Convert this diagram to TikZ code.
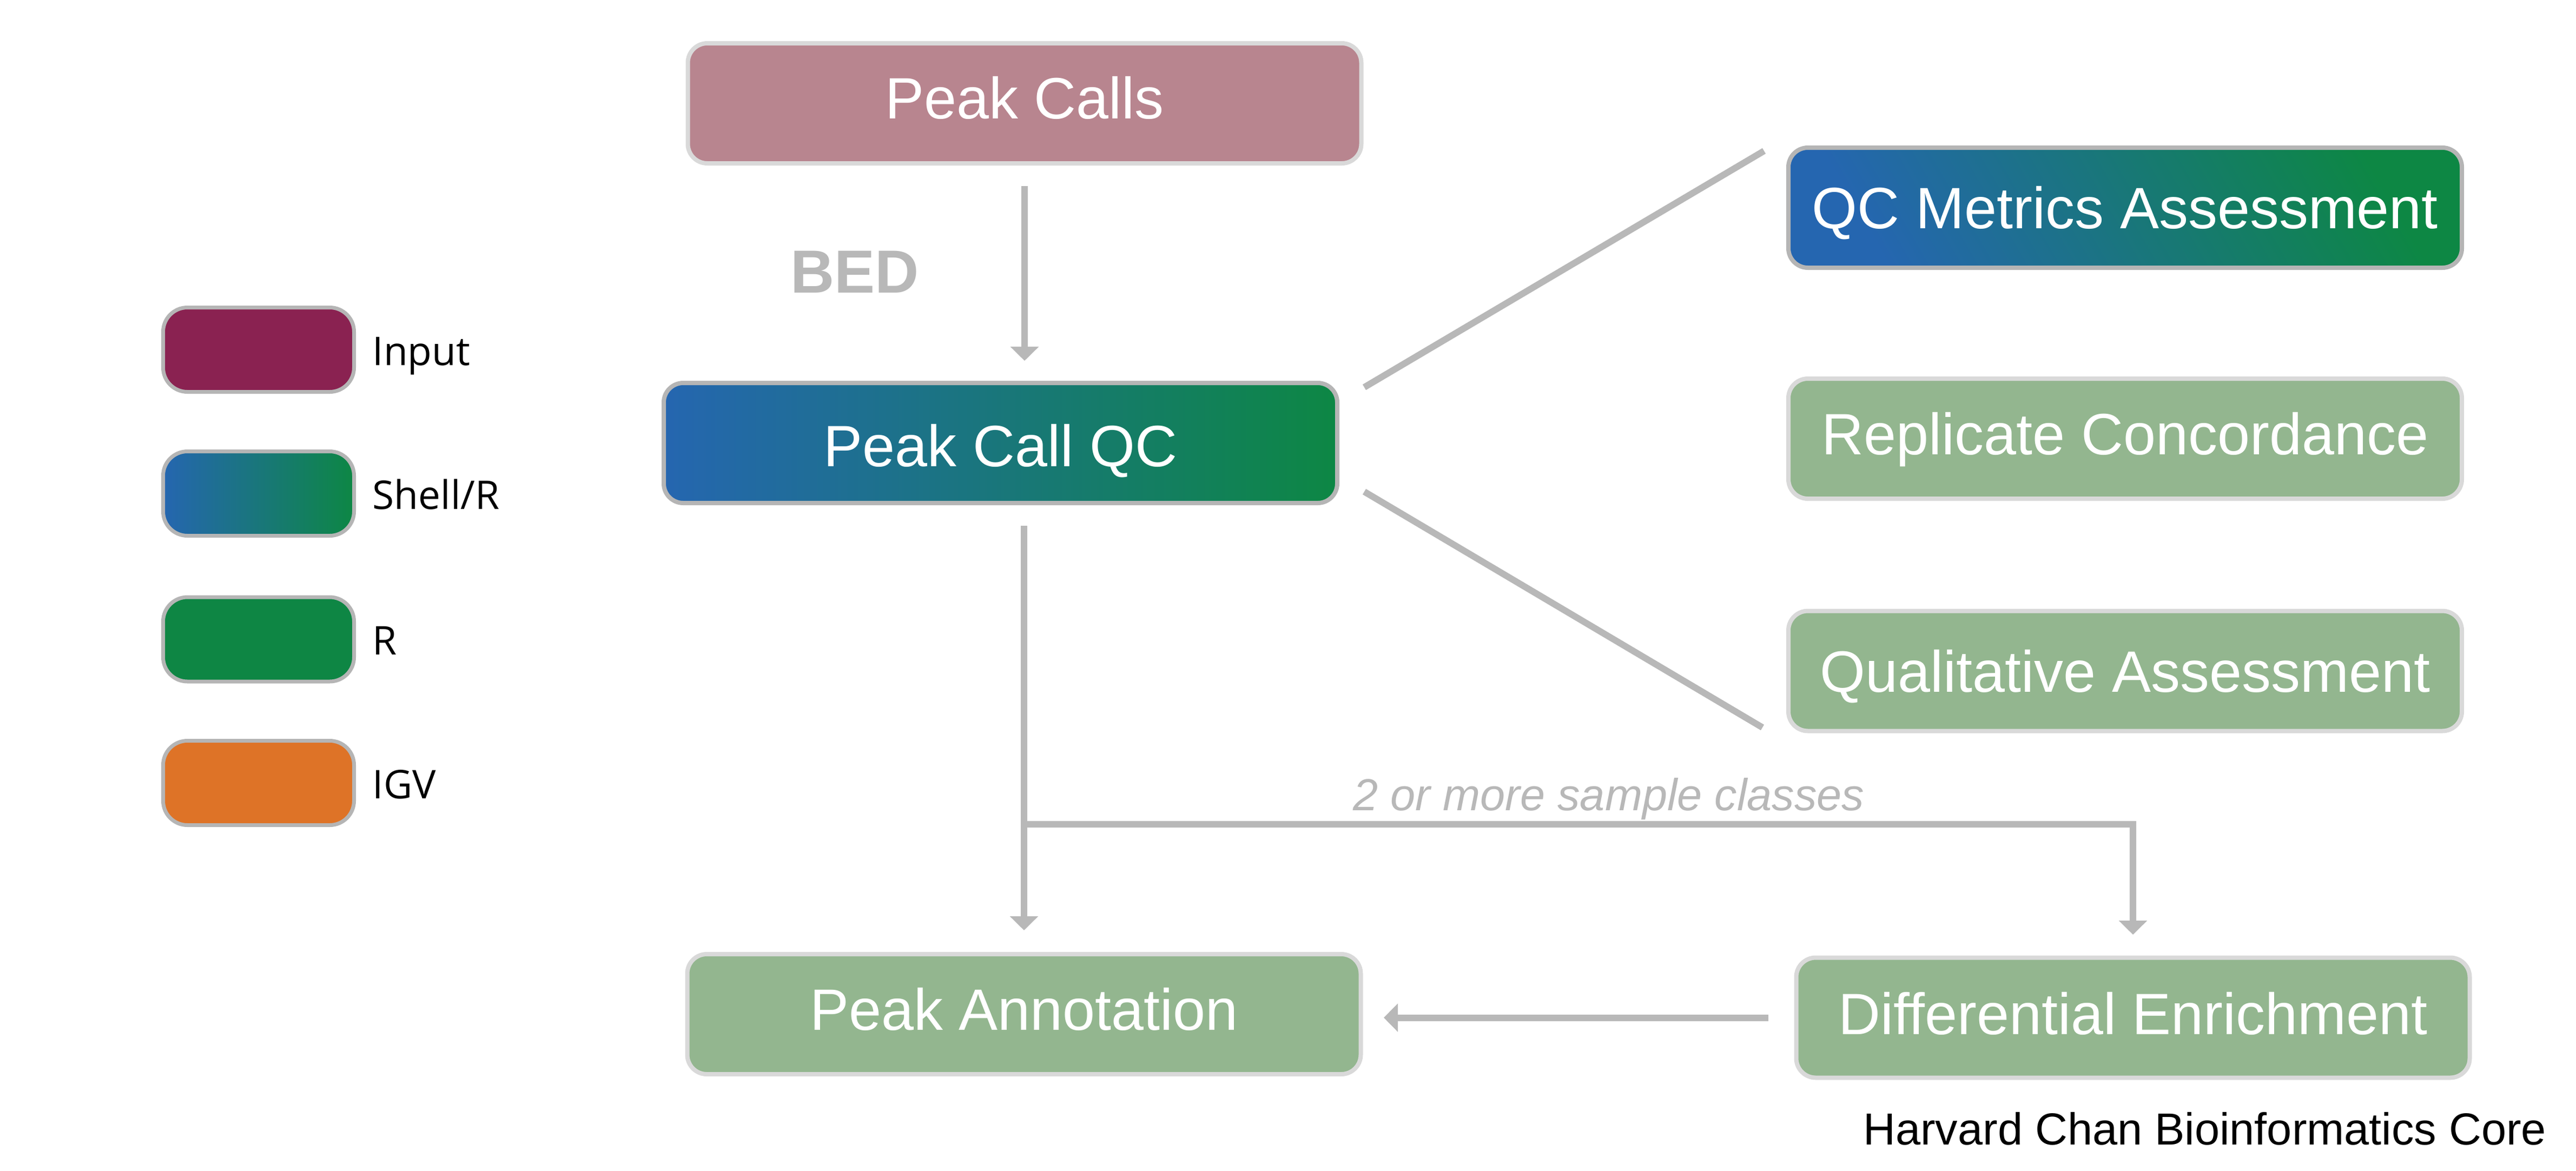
\documentclass[tikz,border=0pt]{standalone}
\usepackage{fontspec}
\setmainfont{Liberation Sans}
\newfontfamily\keyfont{Open Sans}
\usepackage{tikz}
\usetikzlibrary{calc}
\usetikzlibrary{arrows.meta}
\definecolor{callsfill}{HTML}{B8858F}
\definecolor{inputfill}{HTML}{8A2251}
\definecolor{shellblue}{HTML}{2566B0}
\definecolor{shellgreen}{HTML}{0D8744}
\definecolor{rfill}{HTML}{0E8644}
\definecolor{igvfill}{HTML}{DE7327}
\definecolor{sage}{HTML}{93B68F}
\definecolor{lightline}{HTML}{D9D9D9}
\definecolor{darkline}{HTML}{B5B5B5}
\definecolor{linegray}{HTML}{B8B8B8}
\tikzset{
    box/.style={rectangle, rounded corners=0.36cm, minimum width=12.45cm, minimum height=2.22cm,
        line width=0.08cm, inner sep=0pt, text=white, font=\fontsize{30.7}{36}\selectfont,
        text height=22pt, text depth=0pt},
    lightbox/.style={box, draw=lightline, fill=sage},
    shellbox/.style={box, draw=darkline, left color=shellblue, right color=shellgreen},
    key/.style={rectangle, rounded corners=0.45cm, minimum width=3.53cm, minimum height=1.56cm,
        line width=0.07cm, draw=darkline},
    keylabel/.style={anchor=base west, inner sep=0pt, font=\keyfont\fontsize{20.8}{24}\selectfont},
    flow/.style={draw=linegray, line width=0.12cm, -{Triangle[width=0.51cm,length=0.26cm]}},
    link/.style={draw=linegray, line width=0.12cm}
}
\begin{document}
\begin{tikzpicture}
\useasboundingbox (0,0) rectangle (47.62,-21.64);

\node[box, draw=lightline, fill=callsfill, text depth=6pt] (calls) at (18.94,-1.91) {Peak Calls};
\node[shellbox, text height=24.6pt] (qc) at (18.495,-8.19) {Peak Call QC};
\node[box, draw=darkline, top color=shellgreen, bottom color=shellblue, shading angle=-60] (metrics) at (39.285,-3.84) {QC Metrics Assessment};
\node[lightbox, text depth=5.4pt] (rep) at (39.285,-8.11) {Replicate Concordance};
\node[lightbox] (qual) at (39.285,-12.405) {Qualitative Assessment};
\node[lightbox, text depth=5.1pt] (annot) at (18.93,-18.75) {Peak Annotation};
\node[lightbox, text depth=4.3pt] (diff) at (39.43,-18.815) {Differential Enrichment};

\node[anchor=base, inner sep=0pt, text=linegray, font=\bfseries\fontsize{32}{38}\selectfont] (bed) at (15.80,-5.41) {BED};
\node[anchor=base, inner sep=0pt, text=linegray, font=\itshape\fontsize{23.6}{28}\selectfont] (classes) at (29.74,-14.98) {2 or more sample classes};
\node[anchor=base east, inner sep=0pt, font=\fontsize{23.6}{28}\selectfont] (core) at (47.08,-21.16) {Harvard Chan Bioinformatics Core};

\node[key, fill=inputfill] (keyin) at (4.78,-6.465) {};
\node[key, left color=shellblue, right color=shellgreen] (keyshell) at (4.78,-9.125) {};
\node[key, fill=rfill] (keyr) at (4.78,-11.82) {};
\node[key, fill=igvfill] (keyigv) at (4.78,-14.475) {};
\node[keylabel] at ([xshift=0.30cm,yshift=-0.285cm]keyin.east) {Input};
\node[keylabel] at ([xshift=0.30cm,yshift=-0.285cm]keyshell.east) {Shell/R};
\node[keylabel] at ([xshift=0.30cm,yshift=-0.285cm]keyr.east) {R};
\node[keylabel] at ([xshift=0.30cm,yshift=-0.285cm]keyigv.east) {IGV};

\coordinate (split) at ([yshift=2.36cm]annot.north);

\draw[flow, shorten <=0.38cm, shorten >=0.37cm] (calls.south) -- (calls.south |- qc.north);
\draw[flow, shorten <=0.38cm, shorten >=0.40cm] (annot.north |- qc.south) -- (annot.north);
\draw[flow, shorten >=0.385cm] (split) -| (diff.north);
\draw[flow, shorten <=0.475cm, shorten >=0.385cm] (diff.west) -- (diff.west -| annot.east);
\draw[link] ([shift={(0.46,-0.12)}]qc.north east) -- ([shift={(-0.41,-0.10)}]metrics.north west);
\draw[link] ([shift={(0.46,0.25)}]qc.south east) -- ([shift={(-0.44,0.105)}]qual.south west);
\end{tikzpicture}
\end{document}
